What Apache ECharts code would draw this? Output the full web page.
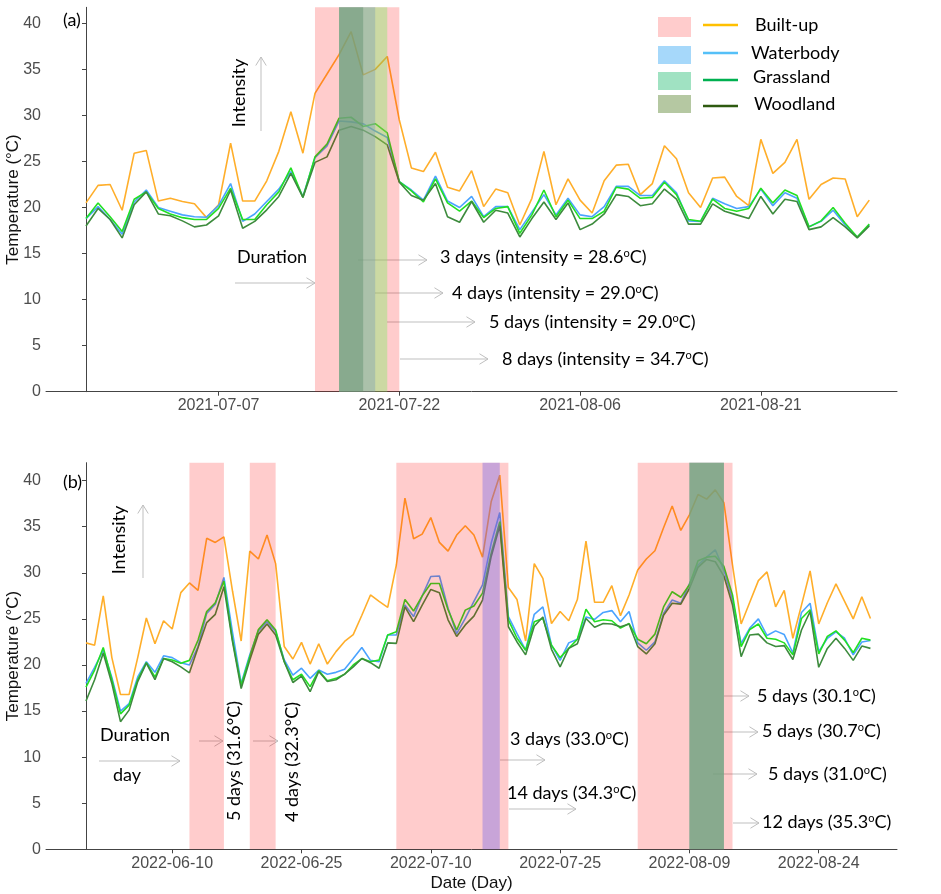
<!DOCTYPE html>
<html>
<head>
<meta charset="utf-8">
<script src="https://cdn.jsdelivr.net/npm/echarts@6/dist/echarts.min.js"></script>
<style>
  html, body { margin: 0; padding: 0; background: #fff; }
  #chart { width: 941px; height: 894px; }
</style>
</head>
<body>
<div id="chart"></div>
<script>
// ---- data ----
const classes = ['Built-up', 'Waterbody', 'Grassland', 'Woodland'];

// (a) 2021, one value per day from startA
const startA = '2021-06-26';
const tickDatesA = ['2021-07-07', '2021-07-22', '2021-08-06', '2021-08-21'];
const builtA = [20.5,22.4,22.5,19.7,25.9,26.2,20.7,21.0,20.65,20.4,18.9,20.3,27.0,20.7,20.7,22.9,26.1,30.4,25.9,32.4,34.5,36.6,39.1,34.4,35.0,36.4,29.5,24.3,23.9,26.0,22.2,21.8,
  24.0,20.1,22.0,21.6,18.1,21.0,26.1,20.3,23.1,20.8,19.4,22.9,24.6,24.7,21.4,22.6,26.7,25.3,21.6,20.0,23.2,23.3,21.2,20.2,27.4,23.7,24.9,27.4,20.9,22.5,23.2,23.1,19.0,20.8];
const waterA = [18.8,20.1,18.7,17.1,20.6,21.9,20.0,19.6,19.2,19.0,18.95,20.2,22.6,18.5,19.3,20.65,22.0,23.9,21.2,25.4,26.7,29.4,29.3,29.1,28.3,27.6,22.8,21.9,20.8,23.4,20.7,20.0,
  21.2,19.0,20.1,20.1,17.6,19.5,21.4,19.2,21.0,19.2,19.0,20.1,22.3,22.3,21.3,21.3,22.9,21.6,18.55,18.5,21.0,20.4,19.9,20.1,22.0,20.2,21.6,21.0,17.9,18.5,19.7,18.1,16.8,18.1];
const grassA = [18.8,20.5,19.0,17.4,20.9,21.7,19.9,19.3,18.9,18.7,18.7,19.9,22.1,18.7,18.7,20.3,21.7,24.3,21.1,25.5,26.9,29.7,29.8,28.8,29.1,28.1,22.8,21.8,20.6,23.1,20.5,19.6,
  20.7,18.9,19.9,20.1,17.2,19.2,21.9,19.0,20.8,18.8,18.8,19.6,22.2,22.0,21.0,21.1,22.75,21.4,18.7,18.5,20.9,19.9,19.6,19.9,22.1,20.5,21.9,21.3,17.9,18.55,20.0,18.3,16.8,18.2];
const woodA = [18.0,19.9,18.7,16.7,20.3,21.7,19.3,19.1,18.55,17.9,18.1,19.1,21.9,17.75,18.5,19.75,21.2,23.7,21.1,24.9,25.5,28.4,28.8,28.4,27.7,26.8,22.75,21.3,20.8,22.6,19.0,18.4,
  20.65,18.4,19.7,19.4,16.8,18.8,20.6,18.7,20.5,17.6,18.2,19.3,21.4,21.2,20.2,20.4,22.0,20.9,18.2,18.2,20.4,19.6,19.2,18.8,21.2,19.3,20.9,20.65,17.6,17.9,18.9,17.9,16.7,18.0];

// (b) 2022
const startB = '2022-05-31';
const tickDatesB = ['2022-06-10', '2022-06-25', '2022-07-10', '2022-07-25', '2022-08-09', '2022-08-24'];
const builtB = [22.4,22.15,27.5,20.8,16.8,16.8,20.8,25.1,22.3,24.8,23.9,27.85,28.9,28.1,33.75,33.3,33.9,28.0,22.6,32.35,31.5,34.1,31.0,22.0,20.65,22.45,20.1,22.3,20.1,21.45,22.55,23.3,25.4,27.6,26.9,26.25,30.85,38.1,33.7,34.2,36.0,33.3,32.35,34.1,35.1,
  34.1,31.7,37.7,40.6,28.4,27.1,22.6,31.0,29.4,24.5,25.8,24.8,27.1,33.45,26.8,26.8,28.6,25.35,27.6,30.3,31.5,32.4,34.9,37.25,34.6,36.3,38.5,38.0,39.0,37.6,30.85,24.45,26.8,29.15,30.1,26.3,28.1,22.9,26.5,30.2,24.45,26.75,28.8,26.9,25.0,27.4,25.05];
const waterB = [18.0,19.75,21.6,18.65,15.0,15.8,18.7,20.35,19.2,21.0,20.8,20.25,20.0,22.0,25.6,26.6,29.5,23.5,18.0,21.1,23.7,24.7,23.6,20.55,18.9,19.65,18.55,19.45,19.0,19.2,19.55,20.7,21.9,20.5,20.35,23.25,23.25,26.5,25.25,27.5,29.6,29.65,26.15,23.4,25.05,
  26.9,28.7,33.2,36.55,25.25,23.4,21.6,25.5,26.3,22.15,20.5,22.4,22.8,25.2,24.95,25.7,25.9,24.7,25.8,22.4,21.6,22.5,25.6,27.05,26.7,28.8,30.85,31.7,32.5,30.3,27.05,22.35,24.0,25.0,23.2,23.7,23.3,21.3,25.7,26.7,21.45,22.9,23.6,22.9,21.1,22.5,22.65];
const grassB = [17.6,19.45,21.9,18.4,14.7,15.65,18.4,20.25,18.7,20.7,20.55,20.2,20.5,22.7,25.8,26.75,29.1,22.7,17.8,20.9,23.85,24.9,23.8,20.35,18.4,19.0,17.65,19.4,18.3,18.55,19.0,20.0,20.7,20.35,20.55,23.25,23.6,27.1,25.85,27.5,28.85,28.85,26.0,23.8,25.95,
  26.4,27.8,32.1,35.55,24.9,22.9,21.6,24.7,25.05,22.15,20.8,21.8,22.8,26.05,24.7,24.9,24.8,24.0,24.5,22.8,22.3,23.35,26.3,27.95,27.35,28.7,31.3,31.7,31.8,30.7,27.6,22.0,23.85,24.45,22.9,22.8,22.4,21.1,25.05,26.0,21.2,23.1,23.7,22.7,21.35,22.9,22.7];
const woodB = [16.1,18.4,21.3,18.0,13.85,15.1,18.2,20.2,18.4,20.7,20.35,19.8,19.15,21.9,24.6,25.5,28.5,22.5,17.45,20.55,23.35,24.45,23.25,20.35,18.1,18.8,17.1,19.3,18.2,18.4,19.0,19.8,20.7,20.25,19.65,22.4,22.35,26.3,24.7,26.5,28.2,27.85,24.9,23.1,24.35,
  25.3,27.05,31.75,35.1,24.15,22.5,21.1,24.2,25.2,21.7,19.8,21.8,22.3,25.05,24.1,24.5,24.45,24.15,24.45,22.0,21.2,22.3,25.4,26.7,26.6,28.3,30.6,31.45,31.2,29.65,26.5,20.9,23.25,23.35,22.4,22.0,22.1,20.6,23.8,25.8,19.75,21.8,22.9,21.8,20.5,22.05,21.8];

// heatwave periods: class, first day, last day
const wavesA = [
  ['Built-up', '2021-07-15', '2021-07-22'],
  ['Waterbody', '2021-07-17', '2021-07-20'],
  ['Grassland', '2021-07-17', '2021-07-21'],
  ['Woodland', '2021-07-17', '2021-07-19']
];
const wavesB = [
  ['Built-up', '2022-06-12', '2022-06-16'],
  ['Built-up', '2022-06-19', '2022-06-22'],
  ['Built-up', '2022-07-06', '2022-07-19'],
  ['Built-up', '2022-08-03', '2022-08-14'],
  ['Waterbody', '2022-07-16', '2022-07-18'],
  ['Waterbody', '2022-08-09', '2022-08-13'],
  ['Grassland', '2022-08-09', '2022-08-13'],
  ['Woodland', '2022-08-09', '2022-08-13']
];

const yTicks = [0, 5, 10, 15, 20, 25, 30, 35, 40];

// ---- styles ----
const lineColors = ['#FFAE2A', '#4AA3FF', '#22E022', '#3D8B3D'];
const bandColors = ['rgba(255,0,0,0.2)', 'rgba(118,104,234,0.4)', 'rgba(128,237,102,0.4)', 'rgba(101,147,114,0.5)'];
const keyFills = ['#FFCCCC', '#A6D8FA', '#A0E2C2', '#B5C8A2'];
const keyLines = ['#FFC000', '#55C0F8', '#00B050', '#2E5A10'];
const DAY = 86400000;

function dayIdx(start, d) { return Math.round((Date.parse(d) - Date.parse(start)) / DAY); }
function dayStr(start, i) { return new Date(Date.parse(start) + Math.round(i) * DAY).toISOString().slice(0, 10); }

function xAxisFor(idx, start, ticks, min, max, extra) {
  const vals = ticks.map(d => dayIdx(start, d));
  return Object.assign({
    type: 'value', gridIndex: idx, min: min, max: max,
    splitLine: { show: false },
    axisLine: { lineStyle: { color: '#444', width: 1 } },
    axisTick: { customValues: vals, length: 4, lineStyle: { color: '#444' } },
    axisLabel: { customValues: vals, formatter: v => dayStr(start, v), color: '#4D4D4D',
      fontFamily: 'Liberation Sans', fontSize: 16, margin: 6 }
  }, extra || {});
}

function yAxisFor(idx, max) {
  return {
    type: 'value', gridIndex: idx, min: 0, max: max,
    name: 'Temperature (°C)', nameLocation: 'middle', nameGap: 24.5, nameMoveOverlap: false,
    nameTextStyle: { fontFamily: 'Liberation Sans', fontSize: 17, color: '#111' },
    splitLine: { show: false },
    axisLine: { show: true, lineStyle: { color: '#444', width: 1 } },
    axisTick: { show: true, customValues: yTicks, length: 4, lineStyle: { color: '#444' } },
    axisLabel: { customValues: yTicks, color: '#4D4D4D', fontFamily: 'Liberation Sans', fontSize: 16, margin: 5 }
  };
}

function lineSeries(vals, k, ax) {
  return {
    type: 'line', name: classes[k], xAxisIndex: ax, yAxisIndex: ax,
    data: vals.map((v, i) => [i, v]), symbol: 'none', z: 2,
    lineStyle: { width: 1.6, color: lineColors[k] }, itemStyle: { color: lineColors[k] }
  };
}

function bandSeries(waves, start, ax) {
  return {
    type: 'custom', xAxisIndex: ax, yAxisIndex: ax, z: 3, silent: true,
    data: waves.map(w => [dayIdx(start, w[1]), dayIdx(start, w[2]), classes.indexOf(w[0])]),
    encode: { x: [0, 1], y: 2 },
    renderItem: (params, api) => {
      const cs = params.coordSys;
      const x0 = api.coord([api.value(0), 0])[0];
      const x1 = api.coord([api.value(1), 0])[0];
      return { type: 'rect', shape: { x: x0, y: cs.y, width: x1 - x0, height: cs.height },
        style: { fill: bandColors[api.value(2)] } };
    }
  };
}

// ---- annotations ----
const GRAY = '#BFBFBF';
function arrow(x1, y1, x2, y2) {
  const a = Math.atan2(y2 - y1, x2 - x1), L = 10, w = 0.55;
  return { type: 'group', silent: true, children: [
    { type: 'line', shape: { x1, y1, x2, y2 }, style: { stroke: GRAY, lineWidth: 1 } },
    { type: 'polyline', shape: { points: [
        [x2 - L * Math.cos(a - w), y2 - L * Math.sin(a - w)], [x2, y2],
        [x2 - L * Math.cos(a + w), y2 - L * Math.sin(a + w)]] },
      style: { stroke: GRAY, lineWidth: 1, fill: null } }
  ] };
}
function note(x, y, str, opt) {
  opt = opt || {};
  return { type: 'text', x: x, y: y, rotation: opt.rot || 0, silent: true,
    style: { text: str, fontFamily: 'Lato', fontSize: opt.size || 18, fill: '#000',
      align: opt.align || 'left', verticalAlign: 'middle',
      rich: { sup: { fontFamily: 'Lato', fontSize: 11, lineHeight: 11, verticalAlign: 'top' } } } };
}
const UP = Math.PI / 2;

const graphic = [
  note(63, 20, '(a)'),
  note(239, 93, 'Intensity', { rot: UP, align: 'center' }),
  arrow(261, 131, 261, 57),
  note(237, 257, 'Duration'),
  arrow(235, 283, 315, 283),
  arrow(358, 260, 427, 260), note(440, 257, '3 days (intensity = 28.6{sup|o}C)'),
  arrow(375, 293, 443, 293), note(452, 293, '4 days (intensity = 29.0{sup|o}C)'),
  arrow(387, 322, 475, 322), note(489, 322, '5 days (intensity = 29.0{sup|o}C)'),
  arrow(400, 359, 488, 359), note(502, 359, '8 days (intensity = 34.7{sup|o}C)'),

  note(63, 482, '(b)'),
  note(119, 540, 'Intensity', { rot: UP, align: 'center' }),
  arrow(143, 578, 143, 505),
  note(100, 735, 'Duration'),
  arrow(99, 761, 180, 761),
  note(113, 775, 'day'),
  arrow(199, 741, 223, 741), note(234.5, 761, '5 days (31.6°C)', { rot: UP, align: 'center' }),
  arrow(253, 741, 278, 741), note(292, 762, '4 days (32.3°C)', { rot: UP, align: 'center' }),
  note(510, 739, '3 days (33.0{sup|o}C)'), arrow(500, 760, 545, 760),
  note(507, 793, '14 days (34.3{sup|o}C)'), arrow(509, 809, 576, 809),
  arrow(724, 696, 749, 696), note(757, 696, '5 days (30.1{sup|o}C)'),
  arrow(724, 732, 758, 732), note(762, 731, '5 days (30.7{sup|o}C)'),
  arrow(713, 774, 757, 774), note(768, 774, '5 days (31.0{sup|o}C)'),
  arrow(733, 823, 759, 823), note(762, 822, '12 days (35.3{sup|o}C)')
];

// legend built by hand: fill key + line key + label
const keyRows = [[17, 20, 25, 755, 25], [46, 18, 53, 751, 53], [72, 18, 80, 753, 77], [95, 18, 106, 754, 104]];
keyRows.forEach((r, k) => {
  graphic.push({ type: 'rect', shape: { x: 658, y: r[0], width: 33, height: r[1] }, style: { fill: keyFills[k] }, silent: true });
  graphic.push({ type: 'line', shape: { x1: 703, y1: r[2], x2: 738, y2: r[2] }, style: { stroke: keyLines[k], lineWidth: 2.5 }, silent: true });
  graphic.push(note(r[3], r[4], classes[k]));
});

const chart = echarts.init(document.getElementById('chart'), null, { renderer: 'canvas' });
chart.setOption({
  animation: false,
  backgroundColor: '#fff',
  grid: [
    { left: 46, top: 7.3, width: 851, height: 384.4, outerBoundsMode: 'none', containLabel: false },
    { left: 46, top: 462.7, width: 851, height: 386.6, outerBoundsMode: 'none', containLabel: false }
  ],
  xAxis: [
    xAxisFor(0, startA, tickDatesA, -3.32, 67.3),
    xAxisFor(1, startB, tickDatesB, -4.64, 94.08, {
      name: 'Date (Day)', nameLocation: 'middle', nameGap: 26, nameMoveOverlap: false,
      nameTextStyle: { fontFamily: 'Liberation Sans', fontSize: 17, color: '#111' }
    })
  ],
  yAxis: [yAxisFor(0, 41.74), yAxisFor(1, 41.95)],
  series: [
    lineSeries(builtA, 0, 0), lineSeries(waterA, 1, 0), lineSeries(grassA, 2, 0), lineSeries(woodA, 3, 0),
    bandSeries(wavesA, startA, 0),
    lineSeries(builtB, 0, 1), lineSeries(waterB, 1, 1), lineSeries(grassB, 2, 1), lineSeries(woodB, 3, 1),
    bandSeries(wavesB, startB, 1)
  ],
  graphic: graphic
});
</script>
</body>
</html>
